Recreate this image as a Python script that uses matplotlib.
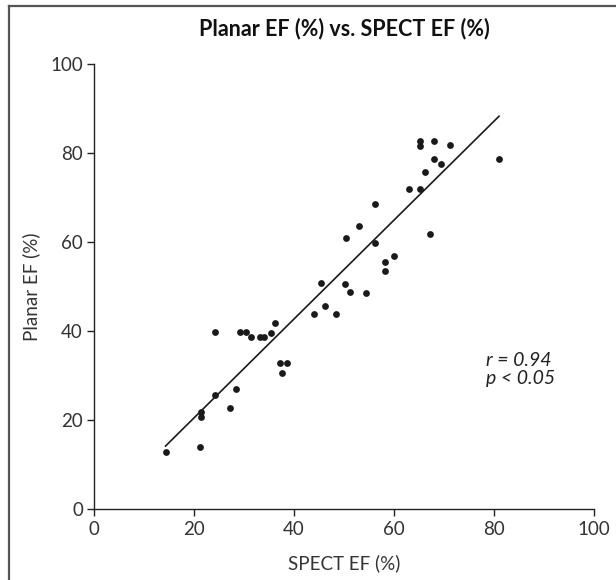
import matplotlib
matplotlib.use("Agg")
import matplotlib.pyplot as plt
from matplotlib.lines import Line2D
import numpy as np

# SPECT EF (%) vs Planar EF (%)
spect_ef = [65.1, 65.1, 67.9, 71.1, 68.0, 69.3, 66.1, 63.0, 65.1, 56.1,
            53.0, 50.3, 56.1, 67.2, 60.0, 58.1, 58.1, 45.3, 50.1, 51.1,
            54.4, 46.2, 44.0, 48.3, 36.2, 35.4, 34.0, 33.1, 31.3, 30.3,
            29.1, 24.2, 37.1, 38.5, 37.5, 28.3, 24.2, 27.2, 21.3, 21.3,
            21.2, 14.3, 81.0]
planar_ef = [82.8, 81.6, 82.7, 81.9, 78.7, 77.6, 75.8, 71.9, 71.9, 68.7,
             63.7, 60.9, 59.8, 61.8, 57.0, 55.6, 53.6, 50.8, 50.6, 48.8,
             48.7, 45.8, 43.9, 43.9, 42.0, 39.7, 38.7, 38.7, 38.7, 39.8,
             39.8, 39.8, 33.0, 33.0, 30.6, 27.0, 25.8, 22.8, 21.8, 20.7,
             14.0, 12.9, 78.7]
ticks = [0, 20, 40, 60, 80, 100]
stats_text = "r = 0.94\np < 0.05"

plt.rcParams["font.family"] = ["Lato", "DejaVu Sans"]

fig = plt.figure(figsize=(6.16, 5.8), dpi=100)
ax = fig.add_axes([0.1526, 0.1216, 0.8117, 0.7675])

x = np.array(spect_ef)
y = np.array(planar_ef)
slope, intercept = np.polyfit(x, y, 1)
xs = np.array([x.min(), x.max()])

ax.plot(xs, intercept + slope * xs, color="#1a1a1a", linewidth=1.2)
ax.scatter(x, y, s=24, color="#1a1a1a", zorder=3, linewidths=0)

ax.set_xlim(0, 100)
ax.set_ylim(0, 100)
ax.set_xticks(ticks)
ax.set_yticks(ticks)
for side in ("top", "right"):
    ax.spines[side].set_visible(False)
for side in ("left", "bottom"):
    ax.spines[side].set_color("#222")
    ax.spines[side].set_linewidth(1.0)
ax.tick_params(direction="out", length=5, width=1.0, colors="#222",
               labelsize=13.5, labelcolor="#333", pad=3)

ax.set_xlabel("SPECT EF (%)", fontsize=13.5, color="#333", labelpad=12)
ax.set_ylabel("Planar EF (%)", fontsize=13.5, color="#333", labelpad=7)
ax.set_title("Planar EF (%) vs. SPECT EF (%)", fontsize=15.5,
             fontweight="bold", color="#111", pad=21)

ax.text(78.3, 31.4, stats_text, fontsize=14, style="italic", color="#222",
        ha="left", va="center", linespacing=1.1)

# outer frame (left and top edges only, as in the source figure)
fig.add_artist(Line2D([0.0145, 0.0145], [0.0, 0.989], transform=fig.transFigure,
                      color="#555", linewidth=1.6))
fig.add_artist(Line2D([0.0145, 1.0], [0.989, 0.989], transform=fig.transFigure,
                      color="#555", linewidth=1.6))

fig.savefig("out.png", dpi=100)
